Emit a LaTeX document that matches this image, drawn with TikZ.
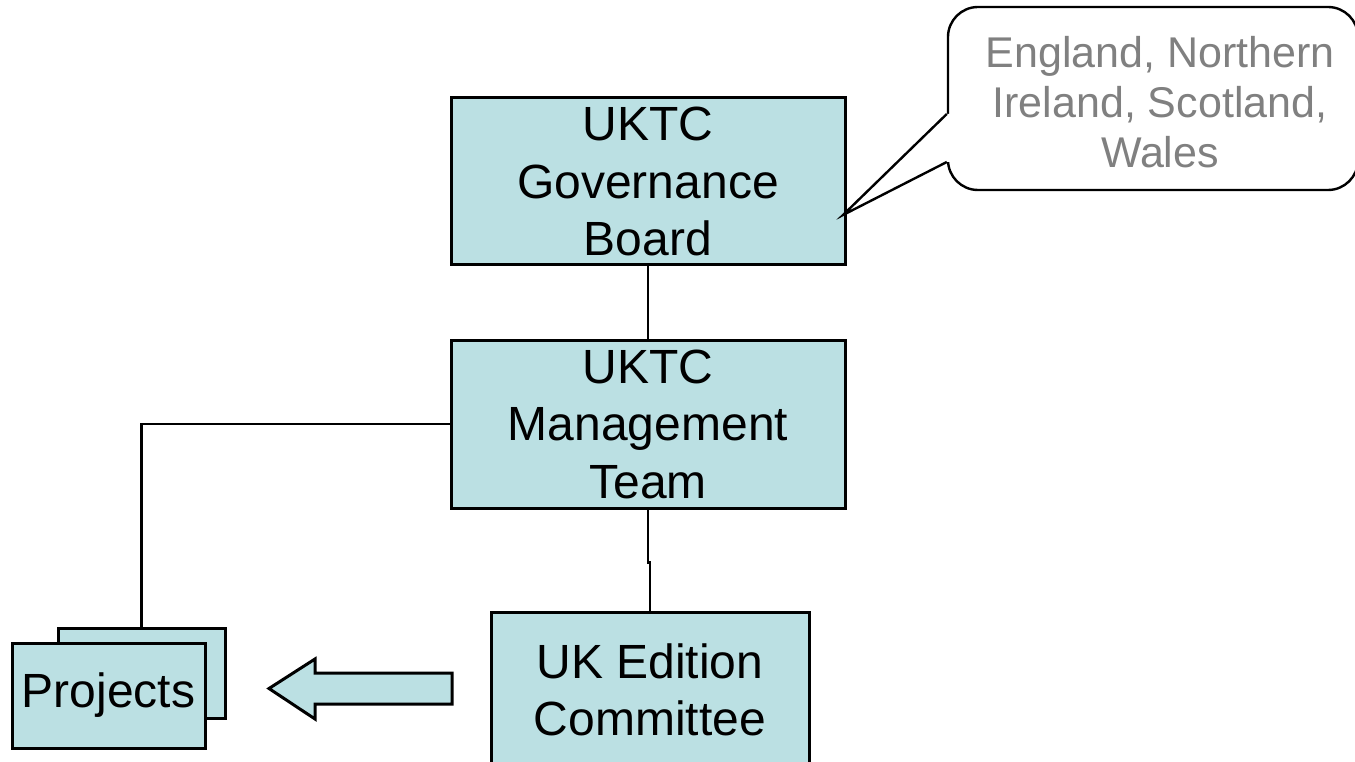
\documentclass[tikz,border=0pt]{standalone}
\usepackage{fontspec}
\setmainfont{Liberation Sans}
\definecolor{boxfill}{RGB}{187,224,227}
\definecolor{notegray}{RGB}{128,128,128}
\tikzset{
  orgbox/.style={draw=black, line width=3pt, fill=boxfill, align=center, inner sep=0pt,
    font=\fontsize{48}{57.5}\selectfont},
  link/.style={draw=black, line width=2.4pt},
}

\begin{document}
\begin{tikzpicture}[x=1pt,y=-1pt]
\useasboundingbox (0,0) rectangle (1355,762);

\node[orgbox, minimum width=394pt, minimum height=167pt] (gov) at (648,181.5) {UKTC\\Governance\\Board};
\node[orgbox, minimum width=394pt, minimum height=168pt] (mgmt) at (648,424) {UKTC\\Management\\Team};
\node[orgbox, minimum width=318pt, minimum height=156pt] (ukec) at (650,690) {UK Edition\\Committee};
\node[orgbox, minimum width=167pt, minimum height=90pt] (projback) at (141.5,673) {};
\node[orgbox, minimum width=193pt, minimum height=105pt] (proj) at (108.5,695.5) {Projects};

\draw[link] (gov.south) -- (mgmt.north);
\draw[link] (mgmt.west) -| (projback.north);
\draw[link] (mgmt.south) -- ++(0,53) -| (ukec.north);

\draw[line width=3pt, fill=boxfill] (452,673) -- (315,673) -- (315,659) -- (269,688.5)
  -- (315,719) -- (315,704) -- (452,704) -- cycle;

\node[draw, line width=2.4pt, rounded corners=30pt, fill=white,
  minimum width=410pt, minimum height=183pt] (note) at (1153,98.5) {};
\node[text=notegray, align=center, font=\fontsize{43}{50}\selectfont] (notetext) at (1160,102)
  {England, Northern\\Ireland, Scotland,\\Wales};
\coordinate (tip) at (843,215);
\path (note.west) ++(0,15.5) coordinate (ptop);
\path (note.west) ++(0,63.5) coordinate (pbot);
\fill[white] (ptop) -- (tip) -- (pbot) -- ++(3,0) -- ([xshift=3pt]ptop) -- cycle;
\draw[line width=2.4pt] (ptop) -- (tip) -- (pbot);

\end{tikzpicture}
\end{document}
